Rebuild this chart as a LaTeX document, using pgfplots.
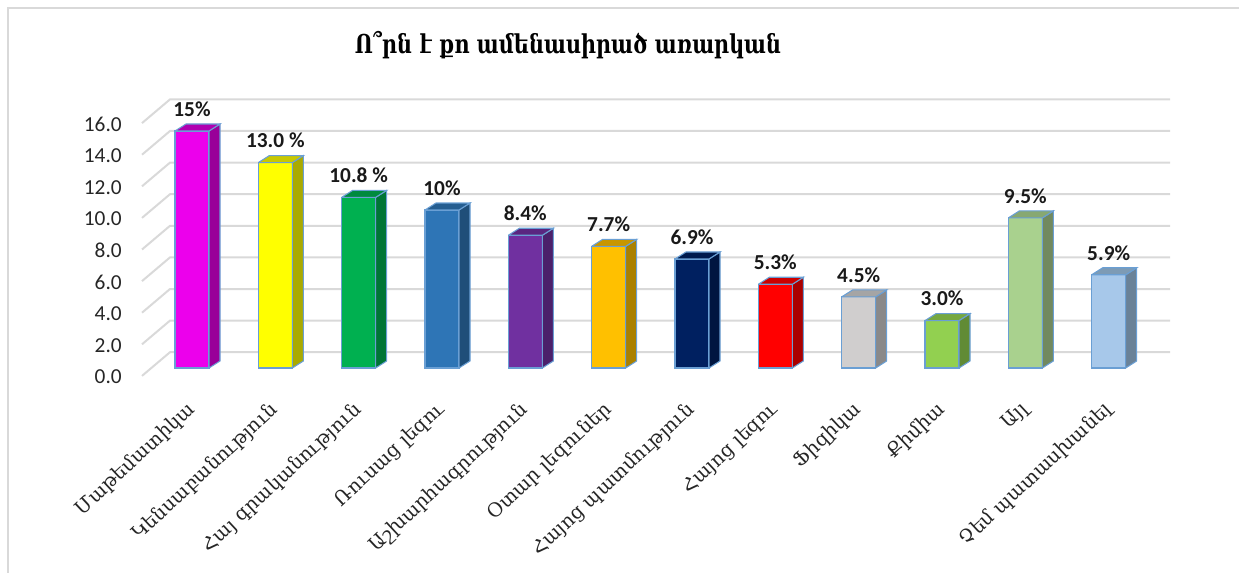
\documentclass[border=0pt]{standalone}
\usepackage{fontspec}
\setmainfont{Carlito}
\newfontfamily\armfont{DejaVu Serif}
\usepackage{pgfplots}
\pgfplotsset{compat=1.18}

\definecolor{outl}{HTML}{6A9FD4}
\definecolor{gridc}{HTML}{D9D9D9}
\definecolor{c1f}{HTML}{EC00EC}\definecolor{c1s}{HTML}{990099}\definecolor{c1t}{HTML}{B000B0}
\definecolor{c2f}{HTML}{FFFF00}\definecolor{c2s}{HTML}{AAAA00}\definecolor{c2t}{HTML}{C8C800}
\definecolor{c3f}{HTML}{00B050}\definecolor{c3s}{HTML}{007535}\definecolor{c3t}{HTML}{008A3E}
\definecolor{c4f}{HTML}{2E75B6}\definecolor{c4s}{HTML}{1F4E79}\definecolor{c4t}{HTML}{255E91}
\definecolor{c5f}{HTML}{7030A0}\definecolor{c5s}{HTML}{4B206B}\definecolor{c5t}{HTML}{5A2680}
\definecolor{c6f}{HTML}{FFC000}\definecolor{c6s}{HTML}{AA8000}\definecolor{c6t}{HTML}{C89600}
\definecolor{c7f}{HTML}{002060}\definecolor{c7s}{HTML}{001540}\definecolor{c7t}{HTML}{001A4D}
\definecolor{c8f}{HTML}{FF0000}\definecolor{c8s}{HTML}{AA0000}\definecolor{c8t}{HTML}{CC0000}
\definecolor{c9f}{HTML}{D0CECE}\definecolor{c9s}{HTML}{8A8989}\definecolor{c9t}{HTML}{A5A5A5}
\definecolor{c10f}{HTML}{92D050}\definecolor{c10s}{HTML}{618B35}\definecolor{c10t}{HTML}{76A840}
\definecolor{c11f}{HTML}{A9D18E}\definecolor{c11s}{HTML}{71895F}\definecolor{c11t}{HTML}{87A872}
\definecolor{c12f}{HTML}{A7C8EA}\definecolor{c12s}{HTML}{6A8298}\definecolor{c12t}{HTML}{7D9BB5}

% one 3-D bar: x, value, front, side, top, label
\newcommand\tdbar[6]{%
  \addplot[ybar, bar width=0.408, bar shift=0pt, fill=#3, draw=outl, line width=0.8pt,
    nodes near coords={#6}] coordinates {(#1,#2)};
  \pgfmathsetmacro\xl{#1-0.204}%
  \pgfmathsetmacro\xr{#1+0.204}%
  \pgfmathsetmacro\xlb{#1-0.204+0.132}%
  \pgfmathsetmacro\xrb{#1+0.204+0.132}%
  \pgfmathsetmacro\yt{#2+0.443}%
  \edef\tmp{\noexpand\addplot[fill=#4, draw=outl, line width=0.8pt] coordinates {(\xr,0) (\xrb,0.443) (\xrb,\yt) (\xr,#2) (\xr,0)};
    \noexpand\addplot[fill=#5, draw=outl, line width=0.8pt] coordinates {(\xl,#2) (\xlb,\yt) (\xrb,\yt) (\xr,#2) (\xl,#2)};}%
  \tmp
}
\newcommand\gl[2]{% back grid line at y=#1 with diagonal from #2
  \addplot[gridc, line width=1.5pt] coordinates {(-0.6,#2) (-0.264,#1) (11.736,#1)};
}

\begin{document}
\begin{tikzpicture}
\path[use as bounding box] (0pt,0pt) rectangle (929.25pt,-429.75pt);
\draw[gridc, line width=1.5pt] (6pt,-429.75pt) -- (6pt,-6pt) -- (929.25pt,-6pt);
\node[font=\armfont\bfseries\fontsize{19.5}{19.5}\selectfont, xscale=0.8] at (426pt,-34pt) {Ո՞րն է քո ամենասիրած առարկան};
\begin{axis}[
  at={(106.5pt,-276pt)}, anchor=south west,
  scale only axis, width=750pt, height=213.3pt,
  xmin=-0.6, xmax=11.4, ymin=0, ymax=18,
  clip=false,
  axis line style={draw=none}, tick style={draw=none},
  xtick={0,...,11},
  xticklabels={Մաթեմատիկա, Կենսաբանություն, Հայ գրականություն, Ռուսաց լեզու, Աշխարհագրություն, Օտար լեզուներ, Հայոց պատմություն, Հայոց լեզու, Ֆիզիկա, Քիմիա, Այլ, Չեմ պատասխանել},
  xticklabel style={font=\armfont\fontsize{14.5}{14.5}\selectfont, rotate=43, anchor=east, inner sep=0pt, text=black!85},
  xticklabel shift=29pt,
  ytick={0,2,...,16},
  yticklabel style={font=\fontsize{16}{16}\selectfont, anchor=east, inner sep=0pt, xshift=-15pt, yshift=-6.75pt, text=black!85,
    /pgf/number format/.cd, fixed, fixed zerofill, precision=1, assume math mode=true},
  every node near coord/.append style={anchor=center, yshift=16.5pt, font=\bfseries\fontsize{16}{16}\selectfont, text=black!90},
]
\gl{1}{-0.5}\gl{3}{1.5}\gl{5}{3.5}\gl{7}{5.5}\gl{9}{7.5}\gl{11}{9.5}\gl{13}{11.5}\gl{15}{13.5}\gl{17}{15.5}
\tdbar{0}{15}{c1f}{c1s}{c1t}{15\%}
\tdbar{1}{13.0}{c2f}{c2s}{c2t}{13.0 \%}
\tdbar{2}{10.8}{c3f}{c3s}{c3t}{10.8 \%}
\tdbar{3}{10}{c4f}{c4s}{c4t}{10\%}
\tdbar{4}{8.4}{c5f}{c5s}{c5t}{8.4\%}
\tdbar{5}{7.7}{c6f}{c6s}{c6t}{7.7\%}
\tdbar{6}{6.9}{c7f}{c7s}{c7t}{6.9\%}
\tdbar{7}{5.3}{c8f}{c8s}{c8t}{5.3\%}
\tdbar{8}{4.5}{c9f}{c9s}{c9t}{4.5\%}
\tdbar{9}{3.0}{c10f}{c10s}{c10t}{3.0\%}
\tdbar{10}{9.5}{c11f}{c11s}{c11t}{9.5\%}
\tdbar{11}{5.9}{c12f}{c12s}{c12t}{5.9\%}
\end{axis}
\end{tikzpicture}
\end{document}
